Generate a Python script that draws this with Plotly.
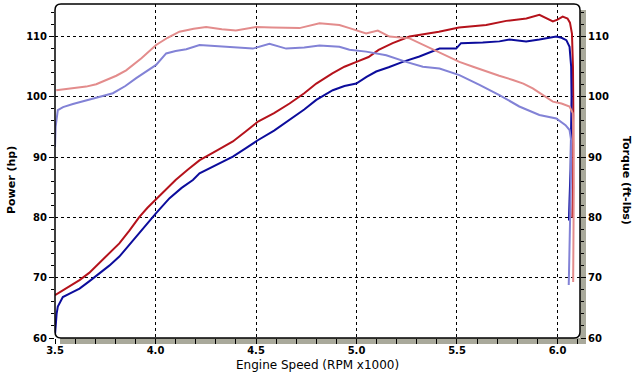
import plotly.graph_objects as go

# ---------------- data ----------------
power1_rpm = [3.500, 3.560, 3.622, 3.670, 3.720, 3.770, 3.820, 3.870, 3.920, 3.960, 4.000, 4.050, 4.100,
              4.160, 4.220, 4.300, 4.385, 4.450, 4.510, 4.590, 4.667, 4.740, 4.800, 4.880, 4.940, 5.000,
              5.060, 5.110, 5.180, 5.264, 5.340, 5.410, 5.510, 5.645, 5.745, 5.845, 5.910, 5.950, 5.977,
              6.000, 6.026, 6.050, 6.062, 6.072, 6.077, 6.079, 6.079, 6.077, 6.074]
power1_hp = [67.1, 68.3, 69.6, 70.8, 72.4, 74.0, 75.7, 77.8, 80.1, 81.6, 82.9, 84.6, 86.2,
             87.9, 89.5, 91.0, 92.6, 94.3, 95.9, 97.3, 98.9, 100.6, 102.2, 103.9, 105.0, 105.8,
             106.6, 107.8, 108.9, 110.0, 110.4, 110.8, 111.5, 111.9, 112.6, 113.0, 113.6, 113.0, 112.5,
             112.8, 113.3, 113.0, 112.3, 110.5, 105.0, 97.0, 90.0, 84.5, 80.0]

power2_rpm = [3.500, 3.503, 3.508, 3.514, 3.539, 3.580, 3.622, 3.670, 3.720, 3.770, 3.820, 3.870, 3.920,
              3.960, 4.003, 4.070, 4.130, 4.186, 4.219, 4.300, 4.385, 4.450, 4.509, 4.590, 4.667, 4.740,
              4.800, 4.882, 4.940, 4.999, 5.050, 5.098, 5.160, 5.230, 5.313, 5.380, 5.413, 5.496, 5.520,
              5.628, 5.711, 5.761, 5.844, 5.910, 5.994, 6.020, 6.044, 6.060, 6.068, 6.070, 6.068, 6.065,
              6.060, 6.057]
power2_hp = [60.5, 62.0, 64.0, 65.2, 66.8, 67.5, 68.2, 69.4, 70.7, 72.0, 73.5, 75.4, 77.4,
             79.0, 80.7, 83.2, 84.9, 86.2, 87.3, 88.7, 90.1, 91.5, 92.8, 94.4, 96.2, 97.9,
             99.5, 101.1, 101.8, 102.2, 103.3, 104.2, 104.9, 105.8, 106.7, 107.5, 108.0, 108.0, 108.9,
             109.0, 109.2, 109.5, 109.2, 109.5, 110.0, 109.8, 109.4, 108.3, 105.0, 100.0, 94.0, 88.0,
             83.0, 79.5]

torque1_rpm = [3.506, 3.580, 3.655, 3.705, 3.755, 3.805, 3.854, 3.930, 4.003, 4.060, 4.119, 4.190, 4.252,
               4.330, 4.400, 4.450, 4.500, 4.580, 4.667, 4.716, 4.816, 4.915, 4.965, 5.048, 5.106, 5.164,
               5.264, 5.320, 5.380, 5.450, 5.512, 5.580, 5.645, 5.710, 5.778, 5.830, 5.877, 5.930, 5.977,
               6.020, 6.060, 6.076, 6.080, 6.081, 6.080, 6.078]
torque1_ftlb = [101.1, 101.4, 101.7, 102.1, 102.8, 103.5, 104.4, 106.4, 108.6, 109.8, 110.8, 111.3, 111.6,
                111.2, 111.0, 111.3, 111.6, 111.5, 111.5, 111.4, 112.2, 111.9, 111.4, 110.5, 111.0, 110.0,
                109.7, 108.8, 107.8, 106.8, 105.8, 105.0, 104.2, 103.5, 102.8, 102.2, 101.4, 100.2, 99.2,
                98.9, 98.4, 97.3, 92.0, 85.0, 77.0, 69.3]

torque2_rpm = [3.500, 3.503, 3.514, 3.540, 3.589, 3.672, 3.730, 3.788, 3.850, 3.904, 4.003, 4.053, 4.100,
               4.153, 4.219, 4.352, 4.484, 4.567, 4.650, 4.740, 4.816, 4.915, 4.965, 5.048, 5.148, 5.247,
               5.330, 5.413, 5.512, 5.612, 5.711, 5.810, 5.910, 5.994, 6.040, 6.060, 6.068, 6.066, 6.062,
               6.056]
torque2_ftlb = [91.7, 95.0, 97.8, 98.3, 98.8, 99.5, 100.0, 100.6, 101.8, 103.1, 105.3, 107.2, 107.6,
                107.9, 108.6, 108.3, 108.0, 108.8, 108.0, 108.2, 108.5, 108.3, 107.8, 107.5, 106.9, 105.8,
                105.0, 104.7, 103.6, 102.0, 100.3, 98.4, 97.0, 96.4, 95.3, 94.5, 92.8, 85.0, 75.0,
                68.8]

x_ticks = [3.5, 4.0, 4.5, 5.0, 5.5, 6.0]
x_ticklabels = ["3.5", "4.0", "4.5", "5.0", "5.5", "6.0"]
y_ticks = [60, 70, 80, 90, 100, 110]

X_RANGE = [3.5, 6.112]
Y_RANGE = [60, 115.4]

# ---------------- figure ----------------
fig = go.Figure()
fig.add_trace(go.Scatter(x=torque1_rpm, y=torque1_ftlb, mode="lines", yaxis="y2",
                         line=dict(color="#e38c8c", width=2)))
fig.add_trace(go.Scatter(x=torque2_rpm, y=torque2_ftlb, mode="lines", yaxis="y2",
                         line=dict(color="#8282d6", width=2)))
fig.add_trace(go.Scatter(x=power1_rpm, y=power1_hp, mode="lines",
                         line=dict(color="#b5121b", width=2)))
fig.add_trace(go.Scatter(x=power2_rpm, y=power2_hp, mode="lines",
                         line=dict(color="#0c0c9c", width=2)))

tickfont = dict(family="DejaVu Sans", size=10, color="black", weight="bold")

fig.update_layout(
    width=640, height=376,
    margin=dict(l=55, r=60, t=4, b=38, autoexpand=False),
    paper_bgcolor="white", plot_bgcolor="white",
    showlegend=False, hovermode=False,
    xaxis=dict(range=X_RANGE, tickmode="array", tickvals=x_ticks, ticktext=x_ticklabels,
               ticks="outside", ticklen=5, tickcolor="black", tickwidth=1, automargin=False,
               ticklabelstandoff=-2,
               minor=dict(dtick=0.1, tick0=3.5, ticks="outside", ticklen=5, tickcolor="black", showgrid=False),
               showgrid=True, gridcolor="black", griddash="3px,3px", gridwidth=1,
               showline=False, zeroline=False, tickfont=tickfont),
    yaxis=dict(range=Y_RANGE, tickmode="array", tickvals=y_ticks, automargin=False,
               ticks="outside", ticklen=5, tickcolor="black", tickwidth=1,
               minor=dict(dtick=2, tick0=60, ticks="outside", ticklen=3, tickcolor="black", showgrid=False),
               showgrid=True, gridcolor="black", griddash="3px,3px", gridwidth=1,
               showline=False, zeroline=False, tickfont=tickfont),
    yaxis2=dict(range=Y_RANGE, overlaying="y", side="right", tickmode="array", tickvals=y_ticks,
                ticks="outside", ticklen=5, tickcolor="black", tickwidth=1, automargin=False,
                minor=dict(dtick=2, tick0=60, ticks="outside", ticklen=3, tickcolor="black", showgrid=False),
                showgrid=False, showline=False, zeroline=False, tickfont=tickfont),
)

# shadow bands (right & bottom) and rounded black frame
W, H = 525.0, 334.0
sx, sy = 6 / W, 6 / H
fig.add_shape(type="rect", xref="paper", yref="paper", layer="below",
              x0=5 / W, x1=1 + sx, y0=-sy, y1=0, line=dict(width=0), fillcolor="#a9a99b")
fig.add_shape(type="rect", xref="paper", yref="paper", layer="below",
              x0=1, x1=1 + sx, y0=-sy, y1=1 - 6 / H, line=dict(width=0), fillcolor="#a9a99b")
rx, ry = 6 / W, 6 / H
path = (f"M {rx},0 L {1-rx},0 Q 1,0 1,{ry} L 1,{1-ry} Q 1,1 {1-rx},1 "
        f"L {rx},1 Q 0,1 0,{1-ry} L 0,{ry} Q 0,0 {rx},0 Z")
fig.add_shape(type="path", path=path, xref="paper", yref="paper", layer="above",
              line=dict(color="black", width=1.5))

fig.add_annotation(text="Power (hp)", textangle=-90, xref="paper", yref="paper",
                   x=(12 - 55) / W, y=(338 - 180) / H, showarrow=False,
                   xanchor="center", yanchor="middle",
                   font=dict(family="DejaVu Sans", size=11, color="black", weight="bold"))
fig.add_annotation(text="Torque (ft-lbs)", textangle=90, xref="paper", yref="paper",
                   x=(626 - 55) / W, y=(338 - 180) / H, showarrow=False,
                   xanchor="center", yanchor="middle",
                   font=dict(family="DejaVu Sans", size=11, color="black", weight="bold"))
fig.add_annotation(text="Engine Speed (RPM x1000)", xref="paper", yref="paper",
                   x=0.5, y=(338 - 365) / H, showarrow=False,
                   xanchor="center", yanchor="middle",
                   font=dict(family="DejaVu Sans", size=12, color="black"))

fig.write_html("out.html",
               config={"displayModeBar": False, "staticPlot": True},
               post_script="document.body.style.margin='0px';document.body.style.padding='0px';"
                           "document.body.style.overflow='hidden';")
